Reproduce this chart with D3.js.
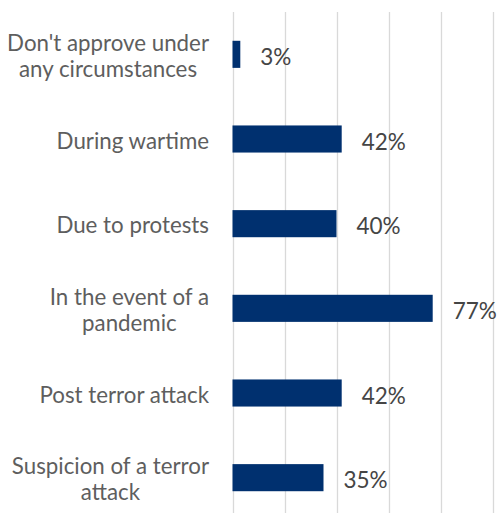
<!DOCTYPE html>
<html>
<head>
<meta charset="utf-8">
<script src="https://cdn.jsdelivr.net/npm/d3@7/dist/d3.min.js"></script>
<style>
  html, body { margin: 0; padding: 0; background: #ffffff; }
  svg { display: block; }
</style>
</head>
<body>
<svg id="chart" width="497" height="513"></svg>
<script>
// Circumstances under which tracking / surveillance would be approved
const categories = [
  "Don't approve under any circumstances",
  "During wartime",
  "Due to protests",
  "In the event of a pandemic",
  "Post terror attack",
  "Suspicion of a terror attack"
];
const shares = [0.03, 0.42, 0.40, 0.77, 0.42, 0.35];
const valueLabels = ["3%", "42%", "40%", "77%", "42%", "35%"];
const gridTicks = [0, 0.2, 0.4, 0.6, 0.8, 1.0];

const W = 497, H = 513;
const plot = { left: 232.5, right: 492.5, top: 12, bottom: 520 };
const FONT = "Lato, 'Open Sans', 'DejaVu Sans', sans-serif";

const svg = d3.select("#chart");

const x = d3.scaleLinear().domain([0, 1]).range([plot.left, plot.right]);
const y = d3.scaleBand()
  .domain(categories)
  .range([plot.top, plot.bottom])
  .paddingInner(0.68)
  .paddingOuter(0.34);

// vertical gridlines (the 0 line doubles as the category axis)
svg.append("g")
  .selectAll("line")
  .data(gridTicks)
  .join("line")
  .attr("x1", d => Math.round(x(d)) + 0.5)
  .attr("x2", d => Math.round(x(d)) + 0.5)
  .attr("y1", plot.top)
  .attr("y2", H)
  .attr("stroke", "#d9d9d9")
  .attr("stroke-width", 1.3);

// bars
svg.append("g")
  .selectAll("rect")
  .data(categories)
  .join("rect")
  .attr("x", x(0))
  .attr("y", d => y(d))
  .attr("width", (d, i) => x(shares[i]) - x(0))
  .attr("height", y.bandwidth())
  .attr("fill", "#00306f");

// value labels
svg.append("g")
  .selectAll("text")
  .data(categories)
  .join("text")
  .attr("x", (d, i) => x(shares[i]) + 20)
  .attr("y", d => y(d) + y.bandwidth() / 2 + 2)
  .attr("dominant-baseline", "central")
  .attr("font-family", FONT)
  .attr("font-size", 22.5)
  .attr("fill", "#454545")
  .text((d, i) => valueLabels[i]);

// category labels, wrapped and centred as a block right-aligned to the axis
const labelRight = 209;
const wrapWidth = 206;
const lineH = 25.5;
const catG = svg.append("g")
  .attr("font-family", FONT)
  .attr("font-size", 22.3)
  .attr("fill", "#5e5e5e");

categories.forEach(cat => {
  const t = catG.append("text").attr("text-anchor", "middle");
  const probe = t.append("tspan");
  const words = cat.split(" ");
  const lines = [];
  let cur = [];
  words.forEach(w => {
    const trial = cur.concat(w).join(" ");
    probe.text(trial);
    if (probe.node().getComputedTextLength() > wrapWidth && cur.length) {
      lines.push(cur.join(" "));
      cur = [w];
    } else {
      cur.push(w);
    }
  });
  lines.push(cur.join(" "));
  probe.remove();

  let maxW = 0;
  const spans = lines.map(l => {
    const s = t.append("tspan").text(l);
    maxW = Math.max(maxW, s.node().getComputedTextLength());
    return s;
  });
  const cx = labelRight - maxW / 2;
  const cy = y(cat) + y.bandwidth() / 2 + 1;
  const first = cy - (lines.length - 1) * lineH / 2;
  spans.forEach((s, i) => {
    s.attr("x", cx)
     .attr("y", first + i * lineH)
     .attr("dominant-baseline", "central");
  });
});
</script>
</body>
</html>
